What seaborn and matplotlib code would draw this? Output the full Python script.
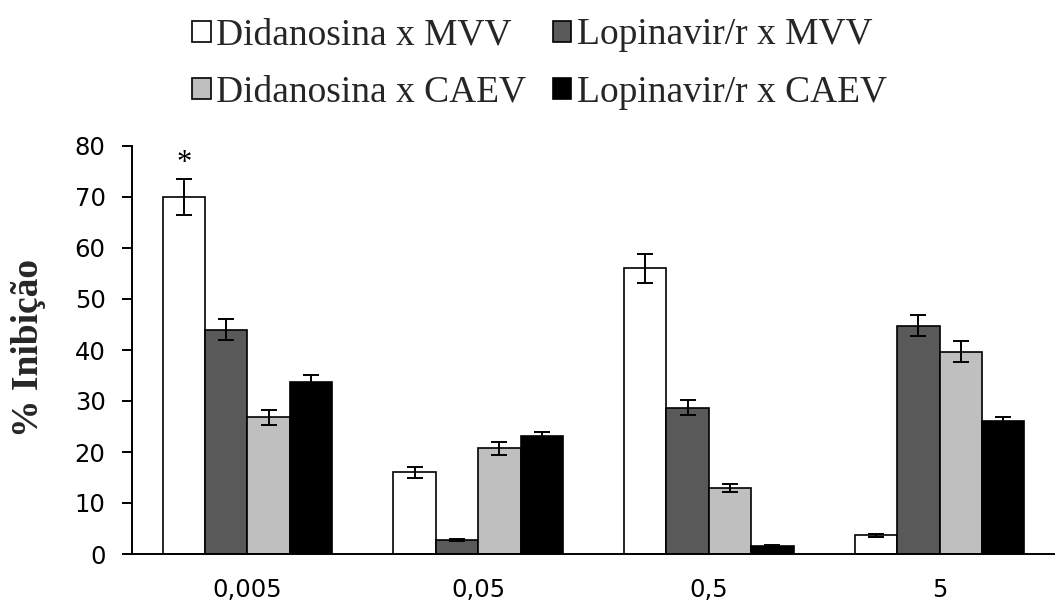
import numpy as np
import pandas as pd
import matplotlib
matplotlib.use("Agg")
import matplotlib.pyplot as plt
from matplotlib.patches import Patch
import seaborn as sns

# ---- data ----
concentrations = ["0,005", "0,05", "0,5", "5"]
series = ["Didanosina x MVV", "Lopinavir/r x MVV", "Didanosina x CAEV", "Lopinavir/r x CAEV"]
didanosina_mvv = [70, 16, 56, 3.7]
lopinavir_mvv = [44, 2.7, 28.7, 44.8]
didanosina_caev = [26.8, 20.7, 13, 39.7]
lopinavir_caev = [33.8, 23.2, 1.6, 26.1]
err_didanosina_mvv = [3.5, 1.0, 2.8, 0.3]
err_lopinavir_mvv = [2.0, 0.2, 1.4, 2.0]
err_didanosina_caev = [1.5, 1.2, 0.8, 2.0]
err_lopinavir_caev = [1.3, 0.8, 0.2, 0.7]
colors = ["#ffffff", "#595959", "#bfbfbf", "#000000"]
yticks = [0, 10, 20, 30, 40, 50, 60, 70, 80]

values = [didanosina_mvv, lopinavir_mvv, didanosina_caev, lopinavir_caev]
errors = [err_didanosina_mvv, err_lopinavir_mvv, err_didanosina_caev, err_lopinavir_caev]

rows = []
for s, vals in zip(series, values):
    for c, v in zip(concentrations, vals):
        rows.append({"conc": c, "series": s, "value": v})
df = pd.DataFrame(rows)

sns.set_style("white")
plt.rcParams["font.family"] = ["DejaVu Sans"]

W, H = 1055, 605
fig = plt.figure(figsize=(W / 100, H / 100), dpi=100)
ax = fig.add_axes([132 / W, 51 / H, (W - 132) / W, (554 - 146) / H])

sns.barplot(data=df, x="conc", y="value", hue="series", order=concentrations,
            hue_order=series, palette=colors, saturation=1, edgecolor="black",
            linewidth=1.2, width=0.735, errorbar=None, legend=False, ax=ax)

for cont, errs in zip(ax.containers, errors):
    xs = [b.get_x() + b.get_width() / 2 for b in cont]
    hs = [b.get_height() for b in cont]
    ax.errorbar(xs, hs, yerr=errs, fmt="none", ecolor="black",
                elinewidth=1.4, capsize=6, capthick=1.4, zorder=3)

# asterisk over first bar
b0 = ax.containers[0][0]
ax.text(b0.get_x() + b0.get_width() / 2, 76.5, "*", ha="center", va="center",
        fontsize=22, family="Liberation Serif", color="black")

ax.set_xlim(-0.5, 3.48)
ax.set_ylim(0, 80)
ax.set_yticks(yticks)
ax.set_yticklabels([str(t) for t in yticks])
ax.set_xticks(range(len(concentrations)))
ax.set_xticklabels(concentrations)
ax.set_xticks([-0.5, 0.5, 1.5, 2.5, 3.5], minor=True)
ax.tick_params(axis="x", which="major", length=0, pad=17, labelsize=17.5, colors="black")
ax.tick_params(axis="x", which="minor", length=7, width=1.4, direction="out", color="black")
ax.tick_params(axis="y", which="major", length=7, width=1.4, direction="out", pad=12,
               labelsize=17.5, left=True, colors="black")
ax.set_xlabel("")
ax.set_ylabel("% Inibição", fontsize=27, fontweight="bold", family="Liberation Serif")
ax.yaxis.set_label_coords(-0.093, 0.505)

for side in ["top", "right"]:
    ax.spines[side].set_visible(False)
for side in ["left", "bottom"]:
    ax.spines[side].set_linewidth(1.4)
    ax.spines[side].set_color("black")

handles = [Patch(facecolor=c, edgecolor="black", linewidth=1.2) for c in colors]
order = [0, 2, 1, 3]
fig.legend([handles[i] for i in order], [series[i] for i in order], ncol=2,
           loc="upper left", bbox_to_anchor=(192 / W, 1 - 18 / H), frameon=False,
           prop={"family": "Liberation Serif", "size": 27},
           handlelength=0.5, handleheight=0.5, handletextpad=0.15,
           columnspacing=0.7, labelspacing=0.6, borderaxespad=0, borderpad=0)

fig.savefig("out.png", dpi=100)
